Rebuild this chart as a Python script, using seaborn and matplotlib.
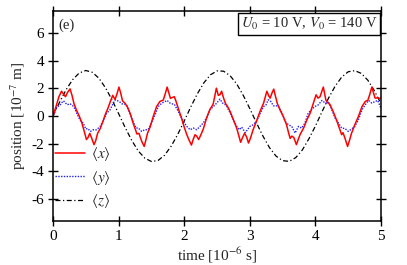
import matplotlib
matplotlib.use("Agg")
import matplotlib.pyplot as plt
import pandas as pd
import seaborn as sns

# <x> (time in 1e-6 s, position in 1e-7 m)
x_time = [0.00, 0.05, 0.09, 0.13, 0.16, 0.19, 0.22, 0.26, 0.29, 0.32, 0.36, 0.40, 0.44, 0.47,
          0.51, 0.535, 0.56, 0.59, 0.625, 0.65, 0.68, 0.72, 0.76, 0.80, 0.84, 0.87, 0.91, 0.945,
          0.975, 1.005, 1.03, 1.06, 1.10, 1.14, 1.18, 1.22, 1.25, 1.28, 1.31, 1.35, 1.39, 1.415,
          1.44, 1.48, 1.53, 1.58, 1.63, 1.68, 1.71, 1.74, 1.765, 1.79, 1.82, 1.85, 1.88, 1.92,
          1.96, 2.00, 2.04, 2.075, 2.11, 2.14, 2.165, 2.19, 2.22, 2.25, 2.29, 2.34, 2.39, 2.44,
          2.46, 2.49, 2.52, 2.545, 2.57, 2.60, 2.63, 2.66, 2.70, 2.75, 2.80, 2.83, 2.86, 2.89,
          2.92, 2.95, 2.98, 3.01, 3.05, 3.10, 3.155, 3.21, 3.26, 3.29, 3.31, 3.34, 3.365, 3.39,
          3.42, 3.46, 3.51, 3.56, 3.59, 3.615, 3.64, 3.67, 3.71, 3.745, 3.77, 3.82, 3.87, 3.92,
          3.97, 4.01, 4.04, 4.07, 4.12, 4.16, 4.19, 4.22, 4.27, 4.32, 4.375, 4.40, 4.42, 4.45,
          4.49, 4.52, 4.55, 4.60, 4.655, 4.71, 4.76, 4.80, 4.83, 4.86, 4.89, 4.91, 4.95, 4.98, 5.00]
x_pos = [0.00, 0.75, 1.40, 1.80, 1.60, 1.40, 1.70, 1.97, 1.50, 0.90, 0.40, 0.00, -0.50, -1.00,
         -1.70, -1.55, -1.25, -1.60, -2.07, -1.80, -1.25, -0.90, -0.40, 0.15, 0.60, 1.00, 1.50, 1.20,
         1.60, 2.10, 1.70, 1.10, 0.92, 0.60, 0.15, -0.50, -0.90, -1.30, -1.25, -1.80, -2.20, -1.75,
         -1.25, -0.80, 0.00, 0.70, 1.06, 1.15, 1.60, 2.10, 1.70, 1.28, 1.35, 1.40, 1.00, 0.40,
         -0.15, -0.80, -1.35, -1.75, -2.10, -1.65, -1.35, -1.45, -1.70, -1.40, -0.95, -0.15, 0.46, 0.85,
         1.30, 2.02, 1.50, 1.55, 1.80, 1.30, 0.90, 0.70, 0.33, -0.27, -0.87, -1.40, -1.90, -1.55,
         -1.25, -1.50, -1.95, -1.60, -0.99, -0.39, 0.33, 0.94, 1.80, 1.45, 1.30, 1.70, 1.95, 1.45,
         0.90, 0.46, -0.03, -0.63, -1.20, -1.62, -1.45, -1.55, -2.07, -1.60, -1.30, -0.87, -0.27, 0.22,
         0.94, 1.54, 1.30, 1.40, 2.10, 1.15, 0.95, 0.85, 0.33, -0.27, -1.00, -1.35, -1.20, -1.60,
         -2.20, -1.75, -1.25, -0.63, -0.03, 0.69, 1.06, 1.15, 1.60, 2.10, 1.60, 1.30, 1.32, 1.28, 1.30]

# <y>
y_time = [0.00, 0.04, 0.06, 0.10, 0.13, 0.16, 0.19, 0.22, 0.26, 0.30, 0.33, 0.36, 0.41, 0.46,
          0.50, 0.53, 0.57, 0.615, 0.66, 0.72, 0.77, 0.82, 0.87, 0.92, 0.95, 0.98, 1.01, 1.05,
          1.09, 1.12, 1.17, 1.22, 1.265, 1.30, 1.35, 1.40, 1.45, 1.50, 1.555, 1.605, 1.66, 1.71,
          1.74, 1.78, 1.81, 1.85, 1.91, 1.96, 1.99, 2.04, 2.09, 2.14, 2.19, 2.24, 2.29, 2.34,
          2.39, 2.445, 2.495, 2.545, 2.585, 2.62, 2.65, 2.70, 2.75, 2.80, 2.84, 2.875, 2.93, 2.97,
          3.00, 3.05, 3.10, 3.155, 3.21, 3.245, 3.28, 3.32, 3.36, 3.43, 3.49, 3.54, 3.59, 3.64,
          3.69, 3.74, 3.79, 3.84, 3.89, 3.94, 3.99, 4.04, 4.10, 4.15, 4.20, 4.25, 4.30, 4.35,
          4.40, 4.45, 4.50, 4.55, 4.60, 4.655, 4.71, 4.76, 4.81, 4.86, 4.91, 4.95, 5.00]
y_pos = [0.00, 0.45, 0.69, 0.74, 0.95, 1.10, 0.95, 0.82, 0.89, 0.76, 0.55, 0.22, -0.27, -0.50,
         -0.94, -0.90, -1.11, -0.99, -1.00, -0.75, -0.27, 0.22, 0.46, 0.94, 1.18, 1.12, 1.06, 0.89,
         0.86, 0.82, 0.22, -0.39, -0.87, -0.86, -1.11, -0.99, -0.98, -0.50, 0.10, 0.69, 0.94, 1.06,
         1.13, 0.95, 0.89, 0.85, 0.33, -0.15, -0.39, -0.75, -0.99, -0.87, -0.99, -0.75, -0.50, -0.15,
         0.46, 0.69, 0.94, 1.23, 0.94, 0.85, 0.69, 0.22, -0.27, -0.75, -0.99, -0.80, -1.20, -0.95,
         -0.75, -0.63, -0.39, 0.15, 0.69, 0.80, 1.18, 1.06, 0.74, 0.74, 0.22, -0.39, -0.63, -0.75,
         -1.23, -0.75, -0.87, -0.50, 0.22, 0.46, 0.69, 0.80, 1.13, 0.94, 1.00, 0.46, -0.15, -0.50,
         -0.87, -0.90, -1.11, -0.94, -0.75, -0.27, 0.46, 0.82, 1.13, 0.94, 1.06, 1.13, 0.55]

# <z>
z_time = [0.0, 0.1, 0.2, 0.3, 0.4, 0.5, 0.6, 0.7, 0.8, 0.9, 1.0, 1.1, 1.2, 1.3, 1.4, 1.5, 1.6,
          1.7, 1.8, 1.9, 2.0, 2.1, 2.2, 2.3, 2.4, 2.5, 2.6, 2.7, 2.8, 2.9, 3.0, 3.1, 3.2, 3.3,
          3.4, 3.5, 3.6, 3.7, 3.8, 3.9, 4.0, 4.1, 4.2, 4.3, 4.4, 4.5, 4.6, 4.7, 4.8, 4.9, 5.0]
z_pos = [0.00, 1.00, 1.91, 2.64, 3.12, 3.30, 3.17, 2.74, 2.05, 1.17, 0.18, -0.83, -1.76, -2.53,
         -3.05, -3.29, -3.22, -2.84, -2.19, -1.34, -0.36, 0.66, 1.61, 2.41, 2.99, 3.27, 3.25, 2.92,
         2.33, 1.50, 0.54, -0.48, -1.45, -2.29, -2.90, -3.23, -3.28, -3.01, -2.46, -1.65, -0.72,
         0.31, 1.30, 2.16, 2.82, 3.21, 3.29, 3.09, 2.59, 1.82, 0.89]

x_ticks = [0, 1, 2, 3, 4, 5]
y_ticks = [-6, -4, -2, 0, 2, 4, 6]

sns.set_style("ticks")
plt.rcParams["font.family"] = ["Liberation Serif", "DejaVu Serif"]
plt.rcParams["mathtext.fontset"] = "stix"
plt.rcParams["axes.unicode_minus"] = False

fig = plt.figure(figsize=(4.07, 2.65), dpi=100)
ax = fig.add_axes([0.1302, 0.166, 0.806, 0.792])

df_x = pd.DataFrame({"t": x_time, "v": x_pos})
df_y = pd.DataFrame({"t": y_time, "v": y_pos})
df_z = pd.DataFrame({"t": z_time, "v": z_pos})

sns.lineplot(data=df_z, x="t", y="v", ax=ax, color="black", lw=0.9, sort=False,
             estimator=None, linestyle=(0, (4, 2, 1, 2)), label=r"$\langle z\rangle$")
sns.lineplot(data=df_y, x="t", y="v", ax=ax, color="#2020ff", lw=1.0, sort=False,
             estimator=None, linestyle=(0, (1, 1)), label=r"$\langle y\rangle$")
sns.lineplot(data=df_x, x="t", y="v", ax=ax, color="#ff0000", lw=1.1, sort=False,
             estimator=None, label=r"$\langle x\rangle$")

ax.set_xlim(0, 5)
ax.set_ylim(-7.6, 7.6)
ax.set_xticks(x_ticks)
ax.set_yticks(y_ticks)
ax.set_xticklabels([str(v) for v in x_ticks])
ax.set_yticklabels([str(v) for v in y_ticks])
ax.tick_params(direction="inout", length=7, width=1.0, labelsize=11, top=True, right=True,
               labeltop=False, labelright=False, pad=3, colors="black")
for s in ax.spines.values():
    s.set_linewidth(1.1)
    s.set_color("black")

ax.set_xlabel(r"time [10$^{-6}$ s]", fontsize=11, labelpad=2)
ax.set_ylabel(r"position [10$^{-7}$ m]", fontsize=11, labelpad=2)

handles, labels = ax.get_legend_handles_labels()
ax.legend(handles[::-1], labels[::-1], loc="center left", bbox_to_anchor=(0.005, 0.207),
          frameon=False, fontsize=11, handlelength=2.0, handletextpad=0.4,
          labelspacing=0.35, borderpad=0, borderaxespad=0)

ax.text(0.015, 0.965, "(e)", transform=ax.transAxes, ha="left", va="top", fontsize=10.5)
ax.text(0.988, 0.975, r"$U_0$ = 10 V, $V_0$ = 140 V", transform=ax.transAxes, ha="right",
        va="top", fontsize=10.5,
        bbox=dict(boxstyle="square,pad=0.2", fc="white", ec="black", lw=1.0))

fig.savefig("out.png", dpi=100)
